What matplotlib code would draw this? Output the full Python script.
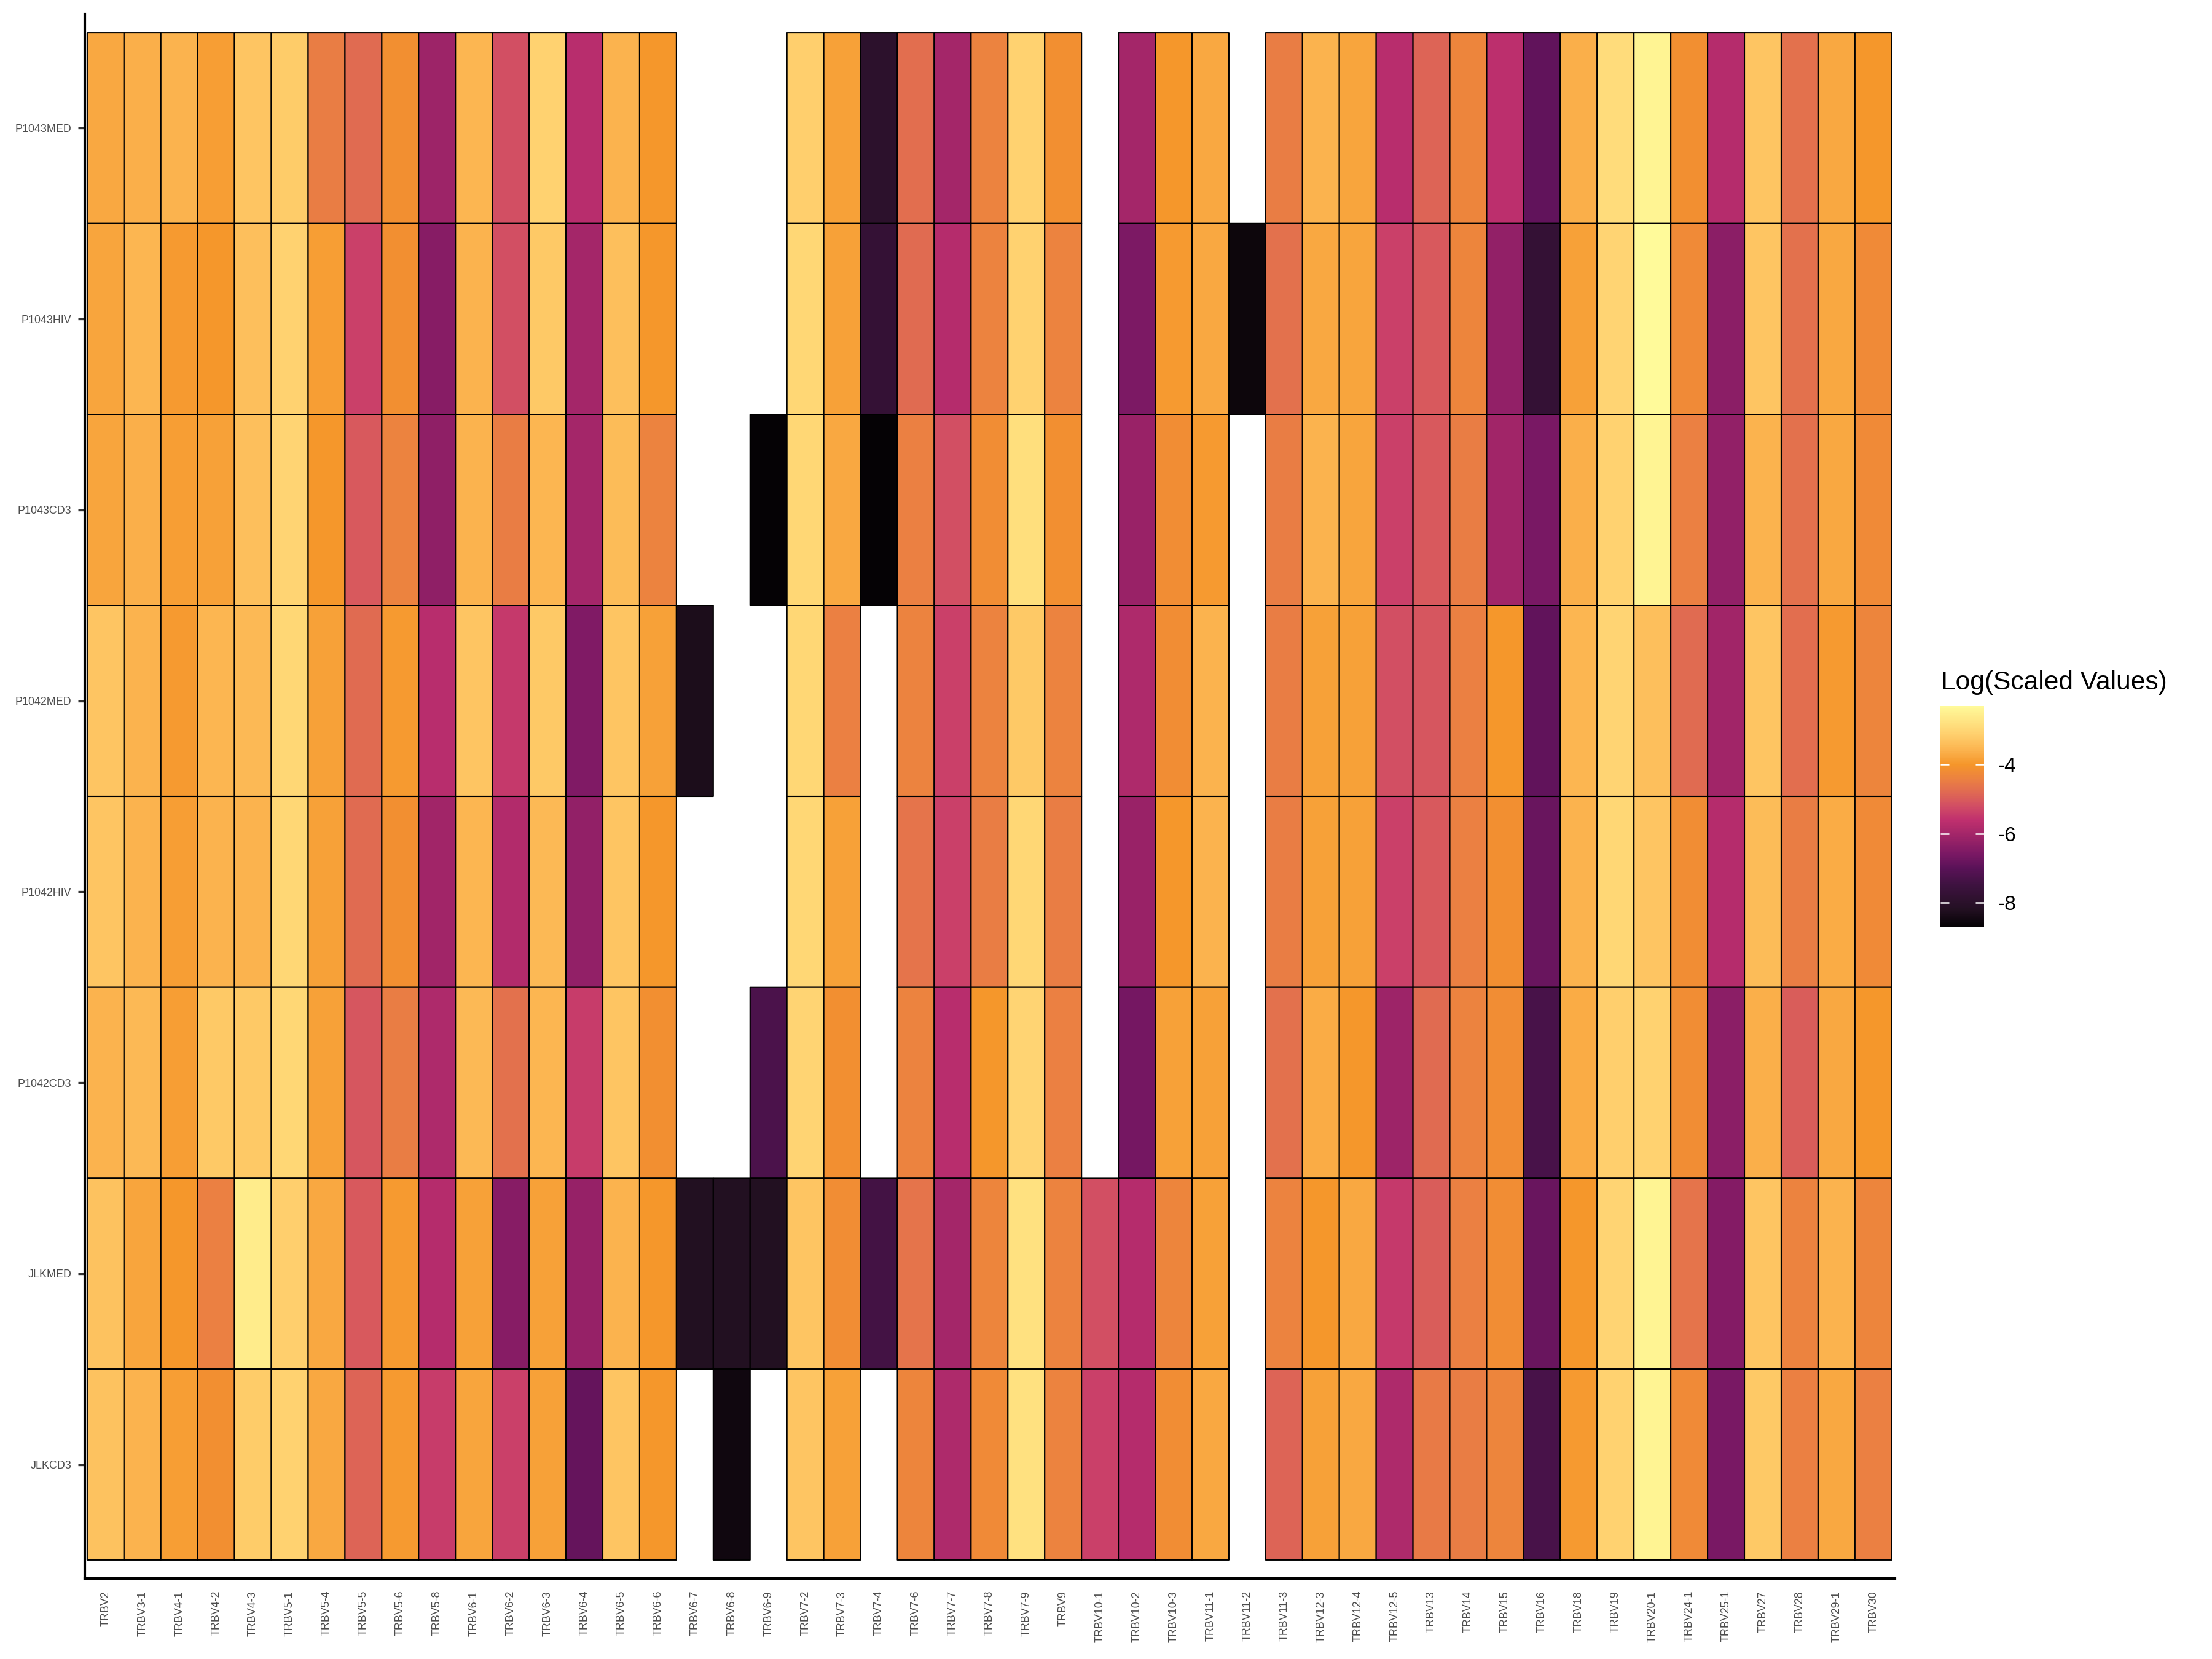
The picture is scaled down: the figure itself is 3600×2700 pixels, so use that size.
import numpy as np
import matplotlib
matplotlib.use("Agg")
import matplotlib.pyplot as plt
from matplotlib.colors import LinearSegmentedColormap, Normalize

plt.rcParams['font.family'] = ['Liberation Sans', 'DejaVu Sans']
plt.rcParams['axes.unicode_minus'] = False

nan = np.nan

genes = ['TRBV2', 'TRBV3-1', 'TRBV4-1', 'TRBV4-2', 'TRBV4-3', 'TRBV5-1', 'TRBV5-4',
         'TRBV5-5', 'TRBV5-6', 'TRBV5-8', 'TRBV6-1', 'TRBV6-2', 'TRBV6-3', 'TRBV6-4',
         'TRBV6-5', 'TRBV6-6', 'TRBV6-7', 'TRBV6-8', 'TRBV6-9', 'TRBV7-2', 'TRBV7-3',
         'TRBV7-4', 'TRBV7-6', 'TRBV7-7', 'TRBV7-8', 'TRBV7-9', 'TRBV9', 'TRBV10-1',
         'TRBV10-2', 'TRBV10-3', 'TRBV11-1', 'TRBV11-2', 'TRBV11-3', 'TRBV12-3',
         'TRBV12-4', 'TRBV12-5', 'TRBV13', 'TRBV14', 'TRBV15', 'TRBV16', 'TRBV18',
         'TRBV19', 'TRBV20-1', 'TRBV24-1', 'TRBV25-1', 'TRBV27', 'TRBV28', 'TRBV29-1',
         'TRBV30']

samples = ['P1043MED', 'P1043HIV', 'P1043CD3', 'P1042MED', 'P1042HIV', 'P1042CD3',
           'JLKMED', 'JLKCD3']

# log scaled values per sample, one entry per gene (nan = not detected)
p1043med = [-3.75, -3.65, -3.6, -3.9, -3.3, -3.2, -4.5, -4.8, -4.15, -6.1, -3.55, -5.2, -3.1,
            -5.7, -3.6, -4.0, nan, nan, nan, -3.15, -3.85, -7.95, -4.75, -6.0, -4.4, -3.1,
            -4.15, nan, -6.0, -4.0, -3.75, nan, -4.5, -3.6, -3.8, -5.7, -4.9, -4.35, -5.65,
            -6.9, -3.65, -2.9, -2.45, -4.15, -5.75, -3.3, -4.7, -3.75, -4.0]
p1043hiv = [-3.8, -3.55, -3.95, -4.0, -3.4, -3.1, -3.9, -5.4, -4.15, -6.4, -3.6, -5.2, -3.25,
            -6.0, -3.4, -4.0, nan, nan, nan, -3.0, -3.85, -7.75, -4.8, -5.75, -4.4, -3.1,
            -4.4, nan, -6.55, -3.95, -3.75, -8.55, -4.7, -3.75, -3.8, -5.4, -5.05, -4.35,
            -6.25, -7.75, -3.85, -3.05, -2.31, -4.25, -6.35, -3.3, -4.7, -3.75, -4.25]
p1043cd3 = [-3.8, -3.65, -3.9, -3.85, -3.4, -3.05, -4.0, -5.05, -4.4, -6.3, -3.6, -4.5, -3.55,
            -6.0, -3.45, -4.4, nan, nan, -8.69, -3.0, -3.75, -8.69, -4.45, -5.2, -4.2, -2.85,
            -4.15, nan, -6.15, -4.2, -3.95, nan, -4.5, -3.6, -3.8, -5.4, -5.05, -4.5, -6.05,
            -6.6, -3.65, -3.1, -2.45, -4.45, -6.25, -3.6, -4.7, -3.75, -4.25]
p1042med = [-3.3, -3.6, -3.95, -3.55, -3.5, -3.0, -3.85, -4.8, -3.95, -5.7, -3.3, -5.5, -3.25,
            -6.5, -3.3, -3.85, -8.3, nan, nan, -3.0, -4.45, nan, -4.4, -5.4, -4.4, -3.25,
            -4.4, nan, -5.85, -4.2, -3.6, nan, -4.5, -3.85, -3.85, -5.2, -5.1, -4.45, -4.0,
            -6.9, -3.55, -3.05, -3.4, -4.8, -6.05, -3.3, -4.75, -3.95, -4.35]
p1042hiv = [-3.3, -3.6, -3.9, -3.6, -3.6, -3.0, -3.85, -4.8, -4.15, -6.05, -3.55, -5.8, -3.5,
            -6.25, -3.3, -4.0, nan, nan, nan, -3.0, -3.85, nan, -4.65, -5.4, -4.5, -3.0,
            -4.5, nan, -6.15, -4.0, -3.6, nan, -4.5, -3.85, -3.85, -5.4, -5.05, -4.45, -4.15,
            -6.8, -3.6, -3.0, -3.3, -4.2, -5.75, -3.45, -4.5, -3.7, -4.25]
p1042cd3 = [-3.6, -3.5, -3.9, -3.25, -3.25, -3.0, -3.85, -5.1, -4.5, -5.85, -3.5, -4.7, -3.55,
            -5.45, -3.3, -4.15, nan, nan, -7.25, -3.05, -4.15, nan, -4.4, -5.7, -4.0, -3.05,
            -4.45, nan, -6.65, -3.85, -3.85, nan, -4.7, -3.7, -4.0, -6.1, -4.8, -4.4, -4.2,
            -7.3, -3.7, -3.15, -3.1, -4.2, -6.35, -3.65, -5.0, -3.75, -4.0]
jlkmed = [-3.35, -3.8, -4.0, -4.45, -2.6, -3.15, -3.75, -5.05, -3.95, -5.75, -3.85, -6.4, -3.85,
          -6.2, -3.6, -4.0, -8.2, -8.2, -8.2, -3.3, -4.2, -7.4, -4.65, -6.0, -4.35, -2.8,
          -4.4, -5.2, -5.75, -4.35, -3.85, nan, -4.4, -4.0, -3.75, -5.5, -5.0, -4.45, -4.2,
          -6.8, -4.0, -3.05, -2.45, -4.65, -6.45, -3.3, -4.4, -3.6, -4.35]
jlkcd3 = [-3.35, -3.6, -3.9, -4.15, -3.2, -3.1, -3.75, -4.9, -3.95, -5.45, -3.8, -5.4, -3.85,
          -6.85, -3.3, -4.0, nan, -8.5, nan, -3.3, -3.85, nan, -4.35, -5.85, -4.25, -2.8,
          -4.4, -5.4, -5.75, -4.2, -3.75, nan, -4.9, -3.85, -3.75, -5.85, -4.55, -4.5, -4.35,
          -7.3, -3.95, -3.1, -2.45, -4.25, -6.6, -3.25, -4.45, -3.75, -4.45]

values = np.ma.masked_invalid(np.array([p1043med, p1043hiv, p1043cd3, p1042med,
                                        p1042hiv, p1042cd3, jlkmed, jlkcd3]))

cmap = LinearSegmentedColormap.from_list('scaled', [
    (0.0, '#050205'), (0.077, '#231022'), (0.187, '#3e1240'), (0.265, '#5a1258'),
    (0.328, '#7a1864'), (0.406, '#9e2468'), (0.484, '#c0306e'), (0.547, '#d24e64'),
    (0.610, '#e06a52'), (0.672, '#ec8240'), (0.735, '#f5962a'), (0.798, '#fbb24d'),
    (0.876, '#ffd16f'), (1.0, '#fffa9a')])
norm = Normalize(vmin=values.min(), vmax=values.max())

fig = plt.figure(figsize=(12, 9), dpi=300)
ax = fig.add_axes([0.0383, 0.0485, 0.8183, 0.9430])

xe = np.arange(len(genes) + 1) - 0.5
ye = np.arange(len(samples) + 1) - 0.5
mesh = ax.pcolor(xe, ye, values, cmap=cmap, norm=norm, edgecolors='black', linewidth=0.5)

ax.set_xlim(-0.567, len(genes) - 0.5 + 0.083)
ax.set_ylim(len(samples) - 0.5 + 0.097, -0.597)

ax.set_xticks(range(len(genes)))
ax.set_xticklabels(genes, rotation=90)
ax.set_yticks(range(len(samples)))
ax.set_yticklabels(samples)
ax.tick_params(axis='x', length=0, pad=4.8, labelsize=4.3, labelcolor='#4d4d4d')
ax.tick_params(axis='y', length=2.6, width=0.8, color='#333333', pad=2.6,
               labelsize=4.3, labelcolor='#4d4d4d')

for side in ['top', 'right']:
    ax.spines[side].set_visible(False)
for side in ['left', 'bottom']:
    ax.spines[side].set_linewidth(1.0)
    ax.spines[side].set_color('black')

# legend
cax = fig.add_axes([0.8772, 0.4415, 0.0197, 0.1330])
cb = fig.colorbar(mesh, cax=cax, ticks=[-4, -6, -8])
cb.outline.set_visible(False)
cax.tick_params(axis='y', direction='in', length=3.4, width=0.6, color='white',
                left=True, right=True, labelleft=False, labelright=True,
                labelsize=8, pad=5.5)
cb.set_ticklabels(['-4', '-6', '-8'])
fig.text(0.8775, 0.5844, 'Log(Scaled Values)', fontsize=10.2, ha='left', va='baseline')

fig.savefig('out.png', dpi=300)
